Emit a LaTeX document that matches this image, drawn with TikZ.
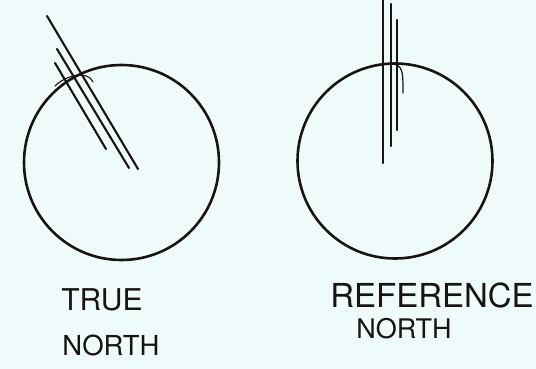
\documentclass[tikz,border=0pt]{standalone}
\usepackage{fontspec}
\setmainfont{TeX Gyre Heros}
\usepackage{xcolor}
\definecolor{paper}{RGB}{239,250,251}
\definecolor{ink}{RGB}{25,20,18}

\begin{document}
\begin{tikzpicture}[x=1pt,y=-1pt,line cap=round,
  pen/.style={ink,line width=2.1pt},
  label/.style={ink,inner sep=0pt}]
\fill[paper] (0,0) rectangle (536,369);
\useasboundingbox (0,0) rectangle (536,369);
% true north
\draw[pen,line width=2.6pt] (121.5,162.5) circle (97.5);
\draw[pen] (47,16) -- (138,169);
\draw[pen] (57,49) -- (129,168);
\draw[pen] (55,63) -- (106,149);
\draw[pen,line width=1.1pt] (55,86) .. controls (66,75) and (88,70) .. (93,82);
\node[label,font=\fontsize{30}{30}\selectfont] (trueTop) at (102,300) {TRUE};
\node[label,font=\fontsize{27.5}{30}\selectfont] (trueBot) at (111,345) {NORTH};
% reference north
\draw[pen,line width=2.6pt] (395,161) circle (97.5);
\draw[pen] (383,0) -- (383,163);
\draw[pen] (391,4) -- (391,146);
\draw[pen] (397,20) -- (397,130);
\draw[pen,line width=1.2pt] (396,65) .. controls (403,67) and (403,75) .. (403,93);
\node[label,font=\fontsize{33}{30}\selectfont] (refTop) at (432,295) {REFERENCE};
\node[label,font=\fontsize{27}{30}\selectfont] (refBot) at (404,329) {NORTH};
\end{tikzpicture}
\end{document}
